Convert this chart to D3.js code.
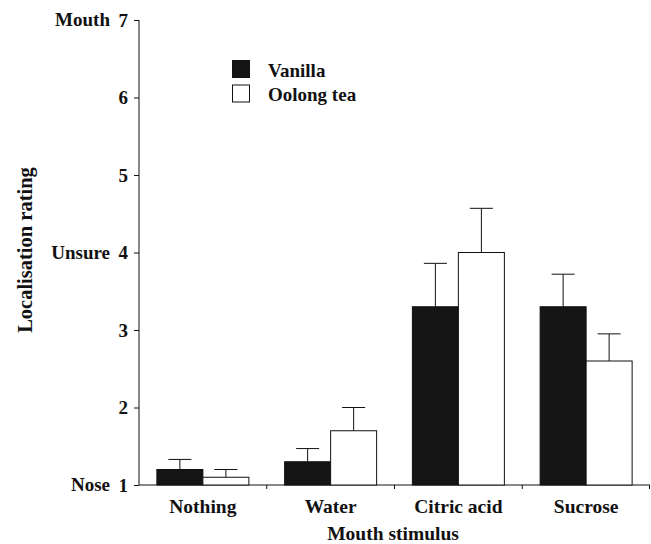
<!DOCTYPE html>
<html>
<head>
<meta charset="utf-8">
<script src="https://cdn.jsdelivr.net/npm/d3@7"></script>
<style>
  html, body { margin: 0; padding: 0; background: #fff; }
  svg text { font-family: "Liberation Serif", "Times New Roman", serif; font-weight: bold; fill: #111; }
</style>
</head>
<body>
<svg id="chart" width="651" height="544"></svg>
<script>
// Mean localisation ratings (1 = nose, 4 = unsure, 7 = mouth) with SEM
const categories = ["Nothing", "Water", "Citric acid", "Sucrose"];
const seriesNames = ["Vanilla", "Oolong tea"];
const vanillaMeans = [1.2, 1.3, 3.3, 3.3];
const vanillaErrors = [0.13, 0.17, 0.56, 0.42];
const oolongMeans = [1.1, 1.7, 4.0, 2.6];
const oolongErrors = [0.1, 0.3, 0.57, 0.35];
const yTicks = [1, 2, 3, 4, 5, 6, 7];
const anchorLabels = [[1, "Nose"], [4, "Unsure"], [7, "Mouth"]];

const series = [
  { name: seriesNames[0], means: vanillaMeans, errors: vanillaErrors, fill: "#151515" },
  { name: seriesNames[1], means: oolongMeans, errors: oolongErrors, fill: "#ffffff" }
];

const svg = d3.select("#chart");
const margin = { left: 139, right: 1, top: 20, bottom: 59 };
const W = 651, H = 544;

const x = d3.scaleBand().domain(categories).range([margin.left, W - margin.right]).paddingInner(0).paddingOuter(0);
const inner = d3.scaleBand().domain(seriesNames).range([0, 92]);
const y = d3.scaleLinear().domain([1, 7]).range([H - margin.bottom, margin.top]);
const fontSize = 19;

// y axis
const yAxis = svg.append("g").attr("transform", `translate(${margin.left},0)`)
  .call(d3.axisLeft(y).tickValues(yTicks).tickSize(5).tickPadding(6).tickFormat(d3.format("d")));
yAxis.select(".domain").attr("stroke", "#111").attr("d", `M0,${y(7)}V${y(1)}`);
yAxis.selectAll(".tick line").attr("stroke", "#111");
yAxis.selectAll(".tick text").attr("font-size", fontSize).attr("fill", "#111")
  .style("font-family", "'Liberation Serif', serif").style("font-weight", "bold");

// x axis
const xAxis = svg.append("g").attr("transform", `translate(0,${y(1)})`)
  .call(d3.axisBottom(x).tickSize(0).tickPadding(14));
xAxis.select(".domain").attr("stroke", "#111").attr("d", `M${margin.left},0H${W - margin.right}`);
xAxis.selectAll(".tick text").attr("font-size", 19.5).attr("fill", "#111")
  .style("font-family", "'Liberation Serif', serif").style("font-weight", "bold");
// boundary ticks between categories
xAxis.selectAll("line.sep").data(categories.slice(1).concat(["end"])).enter().append("line")
  .attr("class", "sep")
  .attr("x1", (d, i) => i < 3 ? x(d) : W - margin.right - 0.5)
  .attr("x2", (d, i) => i < 3 ? x(d) : W - margin.right - 0.5)
  .attr("y1", 0).attr("y2", 4).attr("stroke", "#111");

// anchor words on the y axis
svg.append("g").selectAll("text").data(anchorLabels).enter().append("text")
  .attr("x", 110).attr("y", d => y(d[0])).attr("dy", "0.32em")
  .attr("text-anchor", "end").attr("font-size", fontSize).text(d => d[1]);

// bars and error bars
const groups = svg.append("g").selectAll("g").data(series).enter().append("g");
groups.each(function(s) {
  const g = d3.select(this);
  categories.forEach((c, i) => {
    const bx = x(c) + (x.bandwidth() - 92) / 2 + inner(s.name);
    const bw = inner.bandwidth();
    const cx = bx + bw / 2;
    const top = y(s.means[i] + s.errors[i]);
    g.append("line").attr("x1", cx).attr("x2", cx).attr("y1", y(s.means[i])).attr("y2", top).attr("stroke", "#111");
    g.append("line").attr("x1", cx - bw / 4).attr("x2", cx + bw / 4).attr("y1", top).attr("y2", top).attr("stroke", "#111");
    g.append("rect").attr("x", bx).attr("y", y(s.means[i]))
      .attr("width", bw).attr("height", y(1) - y(s.means[i]))
      .attr("fill", s.fill).attr("stroke", "#111").attr("stroke-width", 1);
  });
});

// legend
const legend = svg.append("g").attr("transform", "translate(232,60)");
series.forEach((s, i) => {
  legend.append("rect").attr("x", 0.5).attr("y", i * 24.5 + 0.5).attr("width", 17).attr("height", 17)
    .attr("fill", s.fill).attr("stroke", "#111");
  legend.append("text").attr("x", 36).attr("y", i * 24.5 + 10).attr("dy", "0.35em")
    .attr("font-size", fontSize).text(s.name);
});

// axis titles
svg.append("text").attr("x", 393).attr("y", 540)
  .attr("text-anchor", "middle").attr("font-size", 19.5).text("Mouth stimulus");
svg.append("text").attr("transform", `translate(32,250) rotate(-90)`)
  .attr("text-anchor", "middle").attr("font-size", 20.5).text("Localisation rating");
</script>
</body>
</html>
